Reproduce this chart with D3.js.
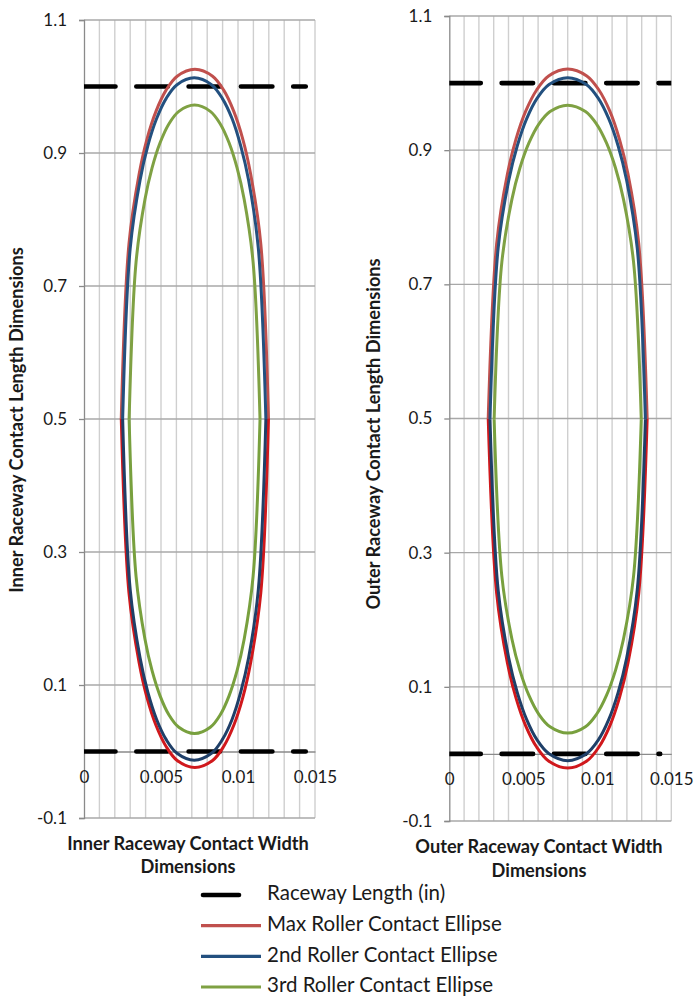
<!DOCTYPE html>
<html>
<head>
<meta charset="utf-8">
<script src="https://cdn.jsdelivr.net/npm/d3@7/dist/d3.min.js"></script>
<style>
  body { margin: 0; background: #fff; }
  svg text { font-family: Lato, "Open Sans", sans-serif; fill: #1a1a1a; }
</style>
</head>
<body>
<svg id="chart" width="696" height="1001"></svg>
<script>
// ---- axis ticks ----
const xTickValues = [0, 0.005, 0.01, 0.015];
const yTickValues = [-0.1, 0.1, 0.3, 0.5, 0.7, 0.9, 1.1];

// ---- series names ----
const seriesNames = [
  "Raceway Length (in)",
  "Max Roller Contact Ellipse",
  "2nd Roller Contact Ellipse",
  "3rd Roller Contact Ellipse"
];

// ---- inner raceway: raceway edges ----
const innerRacewayTop    = [[0, 1.0], [0.0144, 1.0]];
const innerRacewayBottom = [[0, 0.0], [0.0144, 0.0]];

// ---- inner raceway: contact ellipses, upper and lower halves as [width, length] ----
const innerMaxUpper = [[0.00242, 0.501], [0.00292, 0.7635], [0.00358, 0.8685], [0.00409, 0.921], [0.00468, 0.963], [0.00533, 0.9945], [0.00605, 1.0155], [0.0072, 1.026],
                       [0.00835, 1.0155], [0.00907, 0.9945], [0.00972, 0.963], [0.01031, 0.921], [0.01082, 0.8685], [0.01148, 0.7635], [0.01198, 0.501]];
const innerMaxLower = [[0.00242, 0.501], [0.00292, 0.2385], [0.00358, 0.1335], [0.00409, 0.081], [0.00468, 0.039], [0.00533, 0.0075], [0.00605, -0.0135], [0.0072, -0.024],
                       [0.00835, -0.0135], [0.00907, 0.0075], [0.00972, 0.039], [0.01031, 0.081], [0.01082, 0.1335], [0.01148, 0.2385], [0.01198, 0.501]];
const inner2ndUpper = [[0.00251, 0.500], [0.00300, 0.7565], [0.00364, 0.8591], [0.00414, 0.9104], [0.00471, 0.9514], [0.00534, 0.9822], [0.00604, 1.0027], [0.00716, 1.013],
                       [0.00828, 1.0027], [0.00898, 0.9822], [0.00962, 0.9514], [0.01018, 0.9104], [0.01069, 0.8591], [0.01132, 0.7565], [0.01181, 0.500]];
const inner2ndLower = [[0.00251, 0.500], [0.00300, 0.2435], [0.00364, 0.1409], [0.00414, 0.0896], [0.00471, 0.0486], [0.00534, 0.0178], [0.00604, -0.0027], [0.00716, -0.013],
                       [0.00828, -0.0027], [0.00898, 0.0178], [0.00962, 0.0486], [0.01018, 0.0896], [0.01069, 0.1409], [0.01132, 0.2435], [0.01181, 0.500]];
const inner3rdUpper = [[0.00293, 0.4995], [0.00338, 0.7358], [0.00396, 0.8303], [0.00442, 0.8775], [0.00494, 0.9153], [0.00551, 0.9437], [0.00616, 0.9626], [0.00718, 0.972],
                       [0.00820, 0.9626], [0.00885, 0.9437], [0.00942, 0.9153], [0.00994, 0.8775], [0.01040, 0.8303], [0.01098, 0.7358], [0.01143, 0.4995]];
const inner3rdLower = [[0.00293, 0.4995], [0.00338, 0.2632], [0.00396, 0.1687], [0.00442, 0.1215], [0.00494, 0.0837], [0.00551, 0.0553], [0.00616, 0.0364], [0.00718, 0.027],
                       [0.00820, 0.0364], [0.00885, 0.0553], [0.00942, 0.0837], [0.00994, 0.1215], [0.01040, 0.1687], [0.01098, 0.2632], [0.01143, 0.4995]];

// ---- outer raceway: raceway edges ----
const outerRacewayTop    = [[0, 1.0], [0.0152, 1.0]];
const outerRacewayBottom = [[0, 0.0], [0.01425, 0.0]];

// ---- outer raceway: contact ellipses ----
const outerMaxUpper = [[0.00263, 0.500], [0.00320, 0.7605], [0.00393, 0.8647], [0.00451, 0.9168], [0.00517, 0.9585], [0.00590, 0.9897], [0.00671, 1.0106], [0.0080, 1.021],
                       [0.00929, 1.0106], [0.01011, 0.9897], [0.01084, 0.9585], [0.01149, 0.9168], [0.01207, 0.8647], [0.01280, 0.7605], [0.01337, 0.500]];
const outerMaxLower = [[0.00263, 0.500], [0.00320, 0.2395], [0.00393, 0.1353], [0.00451, 0.0832], [0.00517, 0.0415], [0.00590, 0.0103], [0.00671, -0.0106], [0.0080, -0.021],
                       [0.00929, -0.0106], [0.01011, 0.0103], [0.01084, 0.0415], [0.01149, 0.0832], [0.01207, 0.1353], [0.01280, 0.2395], [0.01337, 0.500]];
const outer2ndUpper = [[0.00275, 0.499], [0.00330, 0.7535], [0.00402, 0.8553], [0.00459, 0.9062], [0.00523, 0.9469], [0.00594, 0.9775], [0.00674, 0.9978], [0.0080, 1.008],
                       [0.00926, 0.9978], [0.01006, 0.9775], [0.01077, 0.9469], [0.01141, 0.9062], [0.01198, 0.8553], [0.01270, 0.7535], [0.01325, 0.499]];
const outer2ndLower = [[0.00275, 0.499], [0.00330, 0.2445], [0.00402, 0.1427], [0.00459, 0.0918], [0.00523, 0.0511], [0.00594, 0.0205], [0.00674, 0.0002], [0.0080, -0.010],
                       [0.00926, 0.0002], [0.01006, 0.0205], [0.01077, 0.0511], [0.01141, 0.0918], [0.01198, 0.1427], [0.01270, 0.2445], [0.01325, 0.499]];
const outer3rdUpper = [[0.00303, 0.499], [0.00355, 0.733], [0.00423, 0.8266], [0.00477, 0.8734], [0.00538, 0.9108], [0.00605, 0.9389], [0.00681, 0.9576], [0.0080, 0.967],
                       [0.00920, 0.9576], [0.00995, 0.9389], [0.01062, 0.9108], [0.01123, 0.8734], [0.01177, 0.8266], [0.01245, 0.733], [0.01297, 0.499]];
const outer3rdLower = [[0.00303, 0.499], [0.00355, 0.265], [0.00423, 0.1714], [0.00477, 0.1246], [0.00538, 0.0872], [0.00605, 0.0591], [0.00681, 0.0404], [0.0080, 0.031],
                       [0.00920, 0.0404], [0.00995, 0.0591], [0.01062, 0.0872], [0.01123, 0.1246], [0.01177, 0.1714], [0.01245, 0.265], [0.01297, 0.499]];

// ---- styling ----
const colors = {
  raceway: "#000000",
  maxUpper: "#C0504D", maxLower: "#D0181C",
  secondUpper: "#23507F", secondLower: "#1F3F68",
  thirdUpper: "#7FA143", thirdLower: "#78A03E"
};

const svg = d3.select("#chart");

const panels = [
  {
    id: "inner",
    left: 84, right: 315, top: 20, bottom: 818,
    raceway: [innerRacewayTop, innerRacewayBottom],
    ellipses: [
      [innerMaxUpper, colors.maxUpper], [innerMaxLower, colors.maxLower],
      [inner2ndUpper, colors.secondUpper], [inner2ndLower, colors.secondLower],
      [inner3rdUpper, colors.thirdUpper], [inner3rdLower, colors.thirdLower]
    ],
    xTitle: ["Inner Raceway Contact Width", "Dimensions"], xTitleX: 188, xTitleY: [845, 868],
    yTitle: "Inner Raceway Contact Length Dimensions", yTitleX: 18, yTitleY: 420
  },
  {
    id: "outer",
    left: 449.3, right: 671.3, top: 16, bottom: 821,
    raceway: [outerRacewayTop, outerRacewayBottom],
    ellipses: [
      [outerMaxUpper, colors.maxUpper], [outerMaxLower, colors.maxLower],
      [outer2ndUpper, colors.secondUpper], [outer2ndLower, colors.secondLower],
      [outer3rdUpper, colors.thirdUpper], [outer3rdLower, colors.thirdLower]
    ],
    xTitle: ["Outer Raceway Contact Width", "Dimensions"], xTitleX: 539, xTitleY: [848, 872],
    yTitle: "Outer Raceway Contact Length Dimensions", yTitleX: 375, yTitleY: 434
  }
];

const titleSize = 18.2;

panels.forEach(p => {
  const x = d3.scaleLinear().domain([0, 0.015]).range([p.left, p.right]);
  const y = d3.scaleLinear().domain([-0.1, 1.1]).range([p.bottom, p.top]);
  const g = svg.append("g").attr("class", "panel-" + p.id);

  // vertical minor gridlines every 0.001
  const vGrid = d3.range(1, 16).map(i => i / 1000);
  g.append("g").selectAll("line").data(vGrid).join("line")
    .attr("x1", d => x(d)).attr("x2", d => x(d))
    .attr("y1", y(1.1)).attr("y2", y(-0.1))
    .attr("stroke", "#CFCFCF").attr("stroke-width", 1.4);

  // horizontal major gridlines
  g.append("g").selectAll("line").data(yTickValues).join("line")
    .attr("x1", x(0)).attr("x2", x(0.015))
    .attr("y1", d => y(d)).attr("y2", d => y(d))
    .attr("stroke", "#A8A8A8").attr("stroke-width", 1.3);

  // y axis
  const yAxis = d3.axisLeft(y).tickValues(yTickValues).tickSize(5).tickPadding(12)
    .tickFormat(d => String(+d.toFixed(3)));
  const ya = g.append("g").attr("transform", `translate(${x(0)},0)`).call(yAxis);
  ya.select(".domain").attr("stroke", "#8A8A8A").attr("stroke-width", 1.3);
  ya.selectAll(".tick line").attr("stroke", "#8A8A8A").attr("stroke-width", 1.3);
  ya.selectAll(".tick text").attr("font-size", 17).attr("fill", "#1a1a1a")
    .style("font-family", "Lato, 'Open Sans', sans-serif");

  // x axis crossing at zero
  const xAxis = d3.axisBottom(x).tickValues(xTickValues).tickSize(0).tickPadding(19)
    .tickFormat(d => String(+d.toFixed(3)));
  const xa = g.append("g").attr("transform", `translate(0,${y(0)})`).call(xAxis);
  xa.select(".domain").attr("stroke", "#8A8A8A").attr("stroke-width", 1.3);
  xa.selectAll(".tick text").attr("font-size", 17).attr("fill", "#1a1a1a")
    .style("font-family", "Lato, 'Open Sans', sans-serif");

  // clip to plot area
  const clipId = "clip-" + p.id;
  svg.append("clipPath").attr("id", clipId).append("rect")
    .attr("x", x(0)).attr("y", y(1.1)).attr("width", x(0.015) - x(0)).attr("height", y(-0.1) - y(1.1));
  const plot = g.append("g").attr("clip-path", `url(#${clipId})`);

  // raceway edges (dashed)
  const straight = d3.line().x(d => x(d[0])).y(d => y(d[1]));
  plot.selectAll("path.raceway").data(p.raceway).join("path")
    .attr("class", "raceway")
    .attr("d", straight)
    .attr("fill", "none").attr("stroke", colors.raceway)
    .attr("stroke-width", 4.6).attr("stroke-linecap", "round")
    .attr("stroke-dasharray", "31.5,20.8");

  // contact ellipses (smoothed)
  const smooth = d3.line().x(d => x(d[0])).y(d => y(d[1])).curve(d3.curveCatmullRom.alpha(0.5));
  plot.selectAll("path.ellipse").data(p.ellipses).join("path")
    .attr("class", "ellipse")
    .attr("d", d => smooth(d[0]))
    .attr("fill", "none").attr("stroke", d => d[1])
    .attr("stroke-width", 3).attr("stroke-linejoin", "round");

  // axis titles
  p.xTitle.forEach((line, i) => {
    svg.append("text").attr("x", p.xTitleX).attr("y", p.xTitleY[i])
      .attr("text-anchor", "middle").attr("dominant-baseline", "middle")
      .attr("font-size", titleSize).attr("font-weight", "bold").text(line);
  });
  svg.append("text")
    .attr("transform", `translate(${p.yTitleX},${p.yTitleY}) rotate(-90)`)
    .attr("text-anchor", "middle").attr("dominant-baseline", "middle")
    .attr("font-size", titleSize).attr("font-weight", "bold").text(p.yTitle);
});

// ---- legend ----
const legendRows = [
  { name: seriesNames[0], color: colors.raceway, width: 4.6, dash: true },
  { name: seriesNames[1], color: colors.maxUpper, width: 3.2 },
  { name: seriesNames[2], color: colors.secondUpper, width: 3.2 },
  { name: seriesNames[3], color: colors.thirdUpper, width: 3.2 }
];
const legendY = d3.scalePoint().domain(d3.range(legendRows.length)).range([895, 987]);
const lg = svg.append("g").attr("class", "legend");
legendRows.forEach((r, i) => {
  const yy = legendY(i);
  lg.append("line")
    .attr("x1", r.dash ? 203 : 201).attr("x2", r.dash ? 239 : 261)
    .attr("y1", yy).attr("y2", yy)
    .attr("stroke", r.color).attr("stroke-width", r.width)
    .attr("stroke-linecap", r.dash ? "round" : "butt");
  lg.append("text").attr("x", 267).attr("y", yy)
    .attr("dominant-baseline", "middle").attr("font-size", 20.5).text(r.name);
});
</script>
</body>
</html>
